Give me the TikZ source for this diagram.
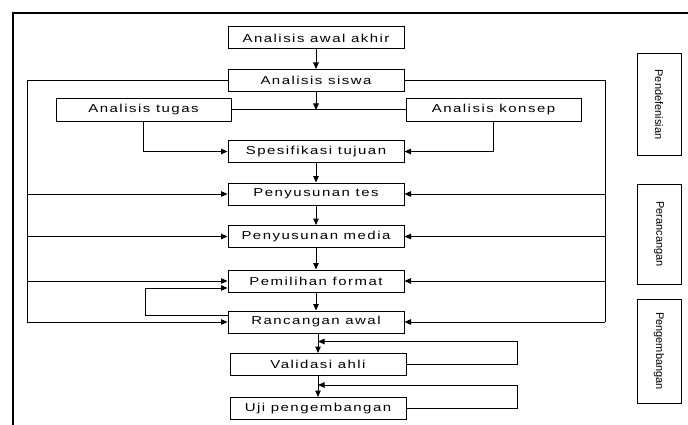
\documentclass[tikz,border=0pt]{standalone}
\usepackage{fontspec}
\usepackage{graphicx}
\setmainfont{Liberation Sans}
\newfontfamily\stagefont[LetterSpace=10]{Liberation Sans}
\newcommand{\widetext}[1]{\scalebox{1.3}[1]{#1}}
\usetikzlibrary{positioning}
\usetikzlibrary{arrows.meta}

\tikzset{
  stage/.style={draw, line width=1pt, minimum width=176pt, minimum height=22pt,
    inner sep=0pt, font=\stagefont\fontsize{11.5}{13}\selectfont},
  phase/.style={draw, line width=1pt, rotate=-90, minimum height=44pt,
    inner sep=0pt, font=\fontsize{11}{12}\selectfont},
  arr/.style={line width=1pt, -{Triangle[length=6.5pt,width=5.5pt]}},
  wire/.style={line width=1pt},
}

\begin{document}
\begin{tikzpicture}[x=1pt, y=1pt]
\useasboundingbox (0,0) rectangle (688,424);

% frame
\draw[line width=2.2pt] (13.3,-10) -- (13.3,411.3) -- (700,411.3);

% main column
\node[stage] (awal) at (316,386) {\widetext{Analisis awal akhir}};
\node[stage, below=19.5pt of awal] (siswa) {\widetext{Analisis siswa}};
\node[stage, below=48pt of siswa] (spes) {\widetext{Spesifikasi tujuan}};
\node[stage, below=19.5pt of spes] (tes) {\widetext{Penyusunan tes}};
\node[stage, below=19.5pt of tes] (media) {\widetext{Penyusunan media}};
\node[stage, below=21.5pt of media] (format) {\widetext{Pemilihan format}};
\node[stage, below=18pt of format] (rancang) {\widetext{Rancangan awal}};
\node[stage, below=19.5pt of rancang, xshift=2pt] (validasi) {\widetext{Validasi ahli}};
\node[stage, below=21pt of validasi] (uji) {\widetext{Uji pengembangan}};

\node[stage, minimum width=175pt] (tugas) at (143.5,314) {\widetext{Analisis tugas}};
\node[stage, minimum width=175pt] (konsep) at (493.5,314) {\widetext{Analisis konsep}};

% phases
\node[phase, minimum width=101pt] (p-def) at (659,319.5) {Pendefenisian};
\node[phase, minimum width=100pt] (p-ranc) at (659,190) {Perancangan};
\node[phase, minimum width=104pt] (p-kemb) at (659,73) {Pengembangan};

% buses
\coordinate (lbus) at (27,0);
\coordinate (rbus) at (605,0);
\coordinate (floop) at (145,0);
\coordinate (vloop) at (517,0);
\coordinate (format-in) at ([yshift=-7pt]format.west);
\coordinate (rancang-out) at ([yshift=7pt]rancang.west);
\coordinate[below=8pt of rancang.south, xshift=2pt] (fb-1);
\coordinate[below=9pt of validasi.south] (fb-2);

\draw[arr] (awal) -- (siswa);
\draw[arr] (siswa) -- (siswa |- tugas);
\draw[wire] (tugas) -- (konsep);
\draw[arr] (tugas) |- (spes);
\draw[arr] (konsep) |- (spes);
\draw[arr] (spes) -- (tes);
\draw[arr] (tes) -- (media);
\draw[arr] (media) -- (format);
\draw[arr] (format) -- (rancang);
\draw[arr] (rancang.south -| validasi.north) -- (validasi.north);
\draw[arr] (validasi) -- (uji);

\draw[wire] (siswa.west) -| (lbus |- rancang);
\draw[wire] (siswa.east) -| (rbus |- rancang);
\foreach \s in {tes, media, format, rancang} {
  \draw[arr] (lbus |- \s) -- (\s.west);
  \draw[arr] (rbus |- \s) -- (\s.east);
}

\draw[arr] (rancang-out) -| (floop |- format-in) -- (format-in);
\draw[arr] (validasi.east) -| (vloop |- fb-1) -- (fb-1);
\draw[arr] (uji.east) -| (vloop |- fb-2) -- (fb-2);

\end{tikzpicture}
\end{document}
